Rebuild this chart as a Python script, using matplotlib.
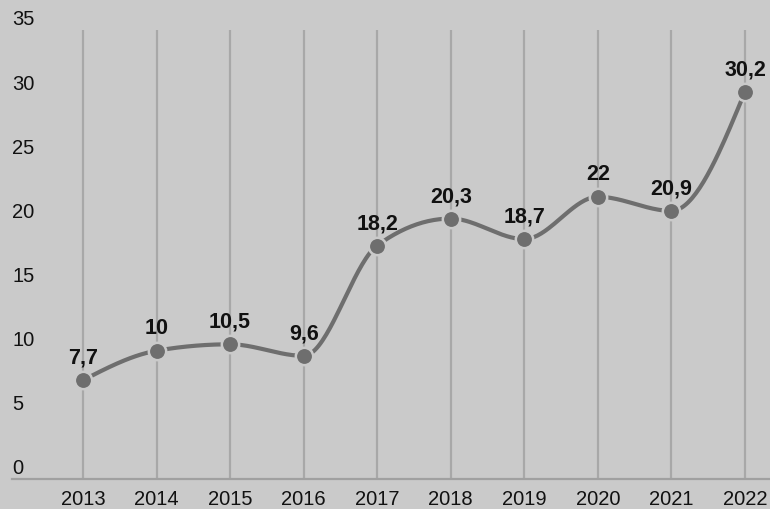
import matplotlib.pyplot as plt
import numpy as np

years = [2013, 2014, 2015, 2016, 2017, 2018, 2019, 2020, 2021, 2022]
values = [7.7, 10, 10.5, 9.6, 18.2, 20.3, 18.7, 22, 20.9, 30.2]
labels = ['7,7', '10', '10,5', '9,6', '18,2', '20,3', '18,7', '22', '20,9', '30,2']
yticks = [0, 5, 10, 15, 20, 25, 30, 35]

bg = '#cacaca'
line_col = '#6e6e6e'
grid_col = '#a8a8a8'

plt.rcParams['font.family'] = ['Liberation Sans', 'DejaVu Sans']


def monotone_curve(x, y, n=40):
    # monotone cubic (like d3 curveMonotoneX) just to draw the smooth line
    x = np.asarray(x, float)
    y = np.asarray(y, float)
    h = np.diff(x)
    d = np.diff(y) / h
    m = np.zeros(len(x))
    for i in range(1, len(x) - 1):
        if d[i - 1] * d[i] <= 0:
            m[i] = 0
        else:
            s = (d[i - 1] * h[i] + d[i] * h[i - 1]) / (h[i - 1] + h[i])
            m[i] = np.sign(d[i]) * min(abs(d[i - 1]), abs(d[i]), 0.5 * abs(s)) * 2
    m[0] = (3 * d[0] - m[1]) / 2
    m[-1] = (3 * d[-1] - m[-2]) / 2
    xs, ys = [], []
    for i in range(len(x) - 1):
        t = np.linspace(0, 1, n)
        h00 = 2 * t**3 - 3 * t**2 + 1
        h10 = t**3 - 2 * t**2 + t
        h01 = -2 * t**3 + 3 * t**2
        h11 = t**3 - t**2
        xs.extend(x[i] + t * h[i])
        ys.extend(h00 * y[i] + h10 * h[i] * m[i] + h01 * y[i + 1] + h11 * h[i] * m[i + 1])
    return np.array(xs), np.array(ys)


fig = plt.figure(figsize=(7.7, 5.1), dpi=100)
fig.patch.set_facecolor(bg)
ax = fig.add_axes([12 / 770, 30 / 510, 1 - 12 / 770, 449 / 510])
ax.set_facecolor(bg)

ax.set_xlim(2012.035, 2022.34)
ax.set_ylim(0, 35)

for yr in years:
    ax.axvline(yr, color=grid_col, lw=1.6, zorder=1)

for s in ['top', 'right', 'left']:
    ax.spines[s].set_visible(False)
ax.spines['bottom'].set_color('#a0a0a0')
ax.spines['bottom'].set_linewidth(1.6)

cx, cy = monotone_curve(years, values)
ax.plot(cx, cy, color=line_col, lw=3, zorder=3, solid_capstyle='round')
ax.plot(years, values, 'o', color=line_col, ms=12.5, mec=bg, mew=1.8, zorder=4)

for x, v, t in zip(years, values, labels):
    ax.annotate(t, (x, v), xytext=(0, 16.5), textcoords='offset points',
                ha='center', va='center', fontsize=15.5, fontweight='bold',
                color='#111111', zorder=5)

ax.set_xticks(years)
ax.set_xticklabels([str(y) for y in years], fontsize=14.5, color='#111111')
ax.tick_params(axis='x', length=0, pad=7.5)

ax.set_yticks([])
for t in yticks:
    ax.annotate(str(t), (0, t), xycoords=('axes fraction', 'data'),
                xytext=(0, 8), textcoords='offset points',
                ha='left', va='center', fontsize=14.5, color='#111111')

plt.savefig('out.png', dpi=100, facecolor=bg)
